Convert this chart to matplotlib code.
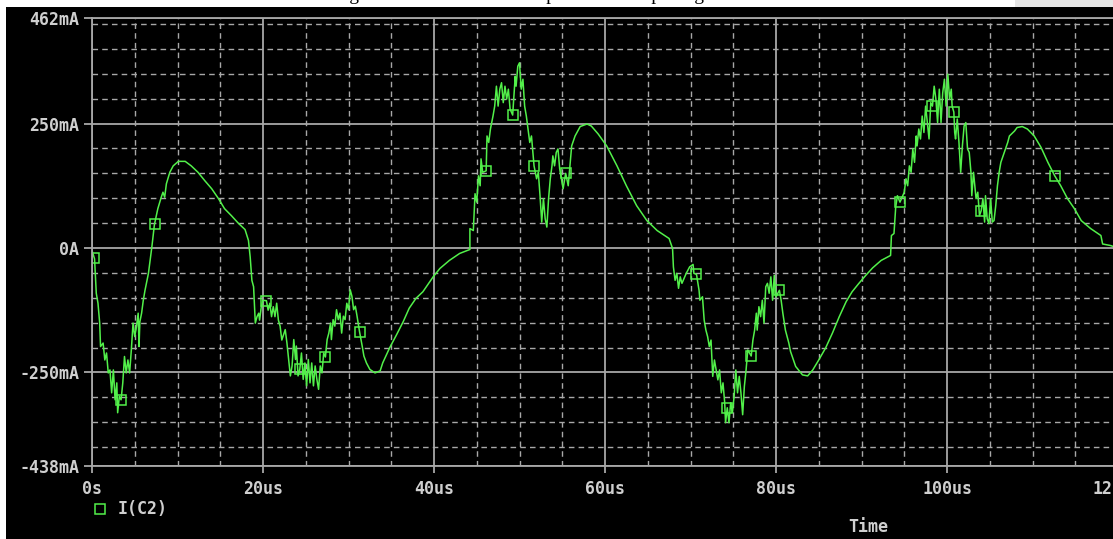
import matplotlib
matplotlib.use("Agg")
import matplotlib.pyplot as plt
from matplotlib.lines import Line2D
from matplotlib.patches import Rectangle

# I(C2) trace (time in us, current in mA)
t_us = [
    0.0, 0.3, 0.5, 0.7, 0.9, 1.0, 1.3, 1.5, 1.7, 1.9,
    2.1, 2.3, 2.5, 2.7, 2.9, 3.0, 3.2, 3.4, 3.6, 3.8,
    4.0, 4.2, 4.4, 4.6, 4.8, 5.0, 5.2, 5.4, 5.5, 5.6,
    5.8, 6.0, 6.2, 6.6, 7.0, 7.3, 7.7, 8.1, 8.3, 8.5,
    8.7, 9.1, 9.5, 10.1, 10.9, 11.6, 12.4, 13.2, 14.0, 14.8,
    15.5, 16.3, 17.1, 17.9, 18.3, 18.5, 18.7, 18.9, 19.1, 19.3,
    19.5, 19.6, 19.8, 20.0, 20.4, 20.6, 20.8, 21.0, 21.2, 21.4,
    21.6, 21.8, 22.0, 22.2, 22.6, 22.8, 23.2, 23.4, 23.6, 23.8,
    23.9, 24.1, 24.3, 24.5, 24.7, 24.9, 25.1, 25.3, 25.5, 25.7,
    25.9, 26.1, 26.3, 26.5, 26.7, 26.9, 27.1, 27.3, 27.5, 27.7,
    27.9, 28.0, 28.2, 28.4, 28.6, 28.8, 29.0, 29.2, 29.4, 29.6,
    29.8, 30.0, 30.2, 30.4, 30.6, 30.8, 31.0, 31.3, 31.6, 31.8,
    32.1, 32.5, 33.1, 33.7, 34.0, 34.8, 35.6, 36.4, 37.1, 37.9,
    38.7, 39.9, 40.7, 41.8, 43.0, 44.2, 44.2, 44.6, 44.8, 45.0,
    45.2, 45.4, 45.5, 45.7, 46.1, 46.2, 46.4, 46.6, 46.9, 47.1,
    47.3, 47.5, 47.7, 47.9, 48.1, 48.3, 48.5, 48.7, 48.9, 49.2,
    49.5, 49.6, 49.8, 50.0, 50.2, 50.4, 50.6, 50.8, 51.0, 51.2,
    51.4, 51.7, 52.0, 52.2, 52.4, 52.6, 52.8, 53.0, 53.2, 53.4,
    53.6, 53.8, 53.9, 54.1, 54.3, 54.5, 54.7, 54.9, 55.1, 55.4,
    55.7, 55.9, 56.1, 56.5, 57.1, 57.9, 58.4, 59.2, 60.2, 61.4,
    62.5, 63.7, 64.9, 66.1, 67.5, 67.9, 68.0, 68.2, 68.4, 68.6,
    68.8, 69.0, 69.5, 69.9, 70.3, 70.4, 70.7, 71.0, 71.1, 71.4,
    71.6, 71.8, 72.0, 72.2, 72.4, 72.6, 72.8, 73.0, 73.2, 73.4,
    73.6, 73.8, 74.0, 74.1, 74.3, 74.5, 74.7, 74.9, 75.1, 75.3,
    75.5, 75.7, 75.9, 76.1, 76.3, 76.5, 76.7, 77.1, 77.3, 77.5,
    77.7, 77.8, 78.0, 78.2, 78.4, 78.6, 78.8, 79.0, 79.2, 79.4,
    79.6, 79.8, 80.0, 80.4, 80.6, 80.8, 81.1, 81.5, 81.7, 82.3,
    83.1, 83.7, 84.3, 85.0, 85.8, 86.6, 87.4, 88.2, 88.9, 89.7,
    90.5, 91.3, 92.3, 93.4, 93.5, 93.8, 94.0, 94.2, 94.5, 95.0,
    95.2, 95.4, 95.6, 95.8, 96.0, 96.2, 96.4, 96.5, 96.7, 96.9,
    97.1, 97.3, 97.5, 97.7, 97.9, 98.1, 98.3, 98.5, 98.7, 98.9,
    99.1, 99.3, 99.5, 99.7, 99.9, 100.1, 100.3, 100.5, 100.6, 100.8,
    100.9, 101.0, 101.2, 101.4, 101.6, 101.8, 102.0, 102.2, 102.4, 102.6,
    102.8, 102.9, 103.1, 103.4, 103.6, 103.8, 104.0, 104.2, 104.4, 104.5,
    104.7, 104.9, 105.1, 105.3, 105.5, 105.7, 105.9, 106.1, 106.3, 106.7,
    107.1, 107.3, 107.9, 108.2, 108.8, 109.4, 110.2, 111.0, 111.8, 112.6,
    113.3, 114.1, 114.9, 115.7, 116.8, 118.0, 118.2, 119.1, 120.0,
]
i_ma = [
    -5, -22, -91, -111, -151, -198, -191, -225, -211, -251,
    -245, -291, -245, -305, -271, -331, -298, -305, -271, -218,
    -251, -225, -251, -205, -151, -178, -158, -131, -198, -148,
    -131, -105, -85, -51, 2, 47, 79, 102, 112, 102,
    129, 152, 165, 174, 174, 165, 152, 135, 119, 99,
    79, 65, 50, 37, 15, -18, -65, -78, -151, -138,
    -131, -145, -118, -105, -106, -125, -111, -138, -118, -138,
    -111, -145, -157, -185, -164, -191, -257, -237, -184, -224,
    -197, -257, -244, -211, -264, -231, -277, -224, -271, -231,
    -277, -237, -264, -284, -237, -251, -211, -219, -184, -171,
    -151, -184, -144, -157, -124, -144, -131, -171, -137, -144,
    -111, -124, -84, -97, -124, -117, -137, -169, -197, -217,
    -231, -244, -251, -247, -231, -201, -175, -148, -121, -101,
    -88, -58, -41, -25, -11, -3, 39, 35, 109, 92,
    145, 125, 179, 152, 155, 225, 212, 239, 265, 285,
    325, 285, 319, 332, 292, 325, 299, 319, 279, 267,
    345, 325, 365, 372, 319, 339, 285, 265, 239, 212,
    225, 165, 139, 152, 105, 52, 99, 59, 42, 99,
    139, 165, 185, 165, 192, 199, 159, 139, 119, 150,
    125, 165, 205, 225, 244, 249, 245, 229, 205, 165,
    125, 85, 55, 35, 19, -1, -38, -65, -51, -81,
    -58, -71, -51, -38, -33, -51, -53, -85, -105, -98,
    -145, -165, -178, -198, -185, -258, -225, -245, -265, -245,
    -291, -271, -311, -351, -321, -351, -311, -331, -298, -245,
    -291, -258, -291, -335, -278, -245, -205, -217, -185, -165,
    -131, -165, -118, -138, -105, -151, -78, -71, -91, -58,
    -105, -55, -98, -85, -105, -131, -165, -191, -208, -238,
    -255, -257, -245, -225, -201, -171, -138, -108, -88, -71,
    -55, -40, -25, -15, 25, 29, 82, 105, 92, 112,
    139, 125, 165, 152, 199, 172, 225, 205, 239, 219,
    265, 232, 285, 252, 219, 292, 285, 325, 299, 252,
    319, 252, 312, 339, 285, 349, 299, 319, 285, 273,
    232, 219, 259, 212, 152, 205, 245, 252, 199, 192,
    152, 105, 152, 99, 112, 65, 75, 99, 52, 105,
    59, 49, 99, 52, 55, 85, 125, 152, 172, 192,
    212, 225, 235, 242, 244, 239, 225, 202, 172, 145,
    125, 99, 79, 55, 39, 25, 8, 5, 0,
]

# square probe markers along the trace
mark_t = [0.2, 3.4, 7.4, 20.4, 24.3, 27.3, 31.3, 46.1, 49.2, 51.7,
          55.4, 70.7, 74.3, 77.1, 80.4, 94.5, 98.3, 100.8, 104.0, 112.6]
mark_i = [-20, -305, 48, -106, -244, -219, -169, 155, 267, 165,
          150, -53, -321, -217, -85, 92, 285, 273, 75, 145]

x_ticks = [0, 20, 40, 60, 80, 100, 120]
x_labels = ["0s", "20us", "40us", "60us", "80us", "100us", "120us"]
y_ticks = [-438, -250, 0, 250, 462]
y_labels = ["-438mA", "-250mA", "0A", "250mA", "462mA"]
x_minor = [v for v in range(5, 120, 5) if v % 20]
y_minor = [v for v in range(-400, 451, 50) if v % 250]

caption = "Figure 3.9: The Class E amplifier C2 output signal"

W, H = 1113, 539
GREEN = "#52f04a"
GRID = "#a8a8a8"
TXT = "#cfcfcf"
mono = dict(family="DejaVu Sans Mono", weight="bold", size=12, color=TXT)

fig = plt.figure(figsize=(W / 100, H / 100), dpi=100, facecolor="white")
fig.add_artist(Rectangle((6 / W, 0), 1, 1 - 7 / H, transform=fig.transFigure,
                         facecolor="black", edgecolor="none", zorder=-10))
fig.add_artist(Rectangle((1015 / W, 1 - 7 / H), 1, 7 / H, transform=fig.transFigure,
                         facecolor="#e6e6e6", edgecolor="none", zorder=-10))
fig.text(530 / W, 1 - 0.5 / H, caption, ha="center", va="baseline",
         family="Liberation Serif", fontsize=14, color="black")

# axes run to 120us, a little past the right edge of the image
ax = fig.add_axes([92 / W, 1 - 466 / H, 1026 / W, 448 / H])
ax.set_facecolor("black")
ax.plot(t_us, i_ma, color=GREEN, lw=1.1)
ax.plot(mark_t, mark_i, ls="none", marker="s", ms=7, mfc="none", mec=GREEN, mew=1.1)
ax.set_xlim(0, 120)
ax.set_ylim(-438, 462)

ax.set_xticks(x_ticks)
ax.set_xticklabels(x_labels, fontdict=mono)
ax.set_yticks(y_ticks)
ax.set_yticklabels(y_labels, fontdict=mono)
ax.set_xticks(x_minor, minor=True)
ax.set_yticks(y_minor, minor=True)
ax.set_axisbelow(True)
ax.grid(which="major", color=GRID, lw=1.3, ls="-")
ax.grid(which="minor", color=GRID, lw=1.0, ls=(0, (4, 3)))
ax.tick_params(which="minor", length=0)
ax.tick_params(axis="y", which="major", length=6, width=1.3, color=GRID, pad=3)
ax.tick_params(axis="x", which="major", length=5, width=1.3, color=GRID, pad=5)
for side in ("left", "top", "bottom"):
    ax.spines[side].set_color(GRID)
    ax.spines[side].set_linewidth(1.3)
ax.spines["right"].set_visible(False)

ax.set_xlabel("Time", va="center", **mono)
ax.xaxis.set_label_coords((868 - 92) / 1026, -(527 - 466) / 448)

# legend entry below the axis
fig.add_artist(Line2D([99.5 / W], [1 - 509 / H], transform=fig.transFigure, ls="none",
                      marker="s", ms=6.5, mfc="none", mec=GREEN, mew=1.1))
fig.text(118 / W, 1 - 509 / H, "I(C2)", ha="left", va="center", **mono)

fig.savefig("out.png", dpi=100, facecolor=fig.get_facecolor())
